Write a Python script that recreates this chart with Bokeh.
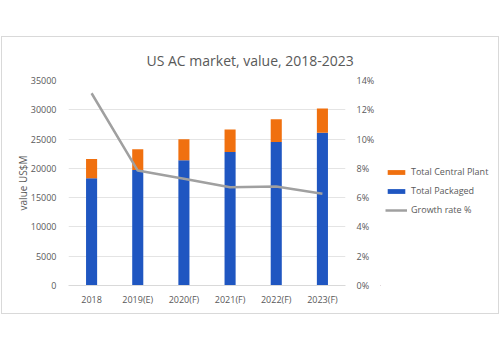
from bokeh.plotting import figure
from bokeh.layouts import row
from bokeh.models import (Range1d, FactorRange, LinearAxis, FixedTicker, NumeralTickFormatter,
                          Legend, LegendItem, Title, ColumnDataSource)
from bokeh.embed import file_html
from bokeh.resources import INLINE

years = ["2018", "2019(E)", "2020(F)", "2021(F)", "2022(F)", "2023(F)"]
packaged = [18300, 19700, 21400, 22800, 24500, 26100]
central_plant = [3300, 3550, 3550, 3850, 3900, 4100]
growth_rate = [0.1313, 0.0785, 0.0729, 0.0671, 0.0676, 0.0626]
left_ticks = [0, 5000, 10000, 15000, 20000, 25000, 30000, 35000]
right_ticks = [0, 0.02, 0.04, 0.06, 0.08, 0.10, 0.12, 0.14]
series_names = ["Total Central Plant", "Total Packaged", "Growth rate %"]

FONT = "Open Sans"
TXT = "#595959"
BLUE = "#1F56C1"
ORANGE = "#F0700F"
GRAY = "#A0A0A0"

src = ColumnDataSource(dict(year=years, packaged=packaged, central=central_plant,
                            growth=growth_rate))

p = figure(width=378, height=276, x_range=FactorRange(*years), y_range=Range1d(0, 35000),
           output_backend="svg", toolbar_location=None,
           min_border_left=66, min_border_right=35, min_border_top=43, min_border_bottom=28)
p.extra_y_ranges = {"pct": Range1d(0, 0.14)}
p.outline_line_color = None

r = p.vbar_stack(["packaged", "central"], x="year", width=0.24, source=src,
                 color=[BLUE, ORANGE], line_color=None)
ln = p.line(x="year", y="growth", source=src, y_range_name="pct",
            line_color=GRAY, line_width=2.5)

ya = p.yaxis[0]
ya.ticker = FixedTicker(ticks=left_ticks)
ya.axis_label = "value US$M"
ya.axis_label_text_font = FONT
ya.axis_label_text_font_size = "10px"
ya.axis_label_text_font_style = "normal"
ya.axis_label_text_color = TXT
ya.axis_label_standoff = -2
ya.major_label_text_font = FONT
ya.major_label_text_font_size = "9px"
ya.major_label_text_color = TXT
ya.axis_line_color = None
ya.major_tick_line_color = None
ya.minor_tick_line_color = None
ya.major_label_standoff = 6

ra = LinearAxis(y_range_name="pct", ticker=FixedTicker(ticks=right_ticks),
                formatter=NumeralTickFormatter(format="0%"))
ra.major_label_text_font = FONT
ra.major_label_text_font_size = "9px"
ra.major_label_text_color = TXT
ra.axis_line_color = None
ra.major_tick_line_color = None
ra.minor_tick_line_color = None
ra.major_label_standoff = 5
p.add_layout(ra, "right")

xa = p.xaxis[0]
xa.major_label_text_font = FONT
xa.major_label_text_font_size = "9px"
xa.major_label_text_color = TXT
xa.axis_line_color = "#D9D9D9"
xa.major_tick_line_color = None
xa.minor_tick_line_color = None
xa.major_label_standoff = 1
p.xgrid.grid_line_color = None
p.ygrid.grid_line_color = "#E4E4E4"
p.ygrid.ticker = FixedTicker(ticks=left_ticks)

p.title = Title(text="US AC market, value, 2018-2023", text_font=FONT, text_font_size="14px",
                text_font_style="normal", text_color=TXT, align="left", offset=78,
                standoff=21)

# legend panel (separate figure so the legend is not clipped)
p2 = figure(width=118, height=276, output_backend="svg", toolbar_location=None,
            x_axis_location=None, y_axis_location=None, min_border=0,
            x_range=Range1d(0, 1), y_range=Range1d(0, 1))
p2.grid.grid_line_color = None
p2.outline_line_color = None
hidden = ColumnDataSource(dict(x=[-5, -6], y=[-5, -6]))
lg_c = p2.vbar(x="x", top="y", width=0.1, source=hidden, color=ORANGE, line_color=None)
lg_p = p2.vbar(x="x", top="y", width=0.1, source=hidden, color=BLUE, line_color=None)
lg_l = p2.line(x="x", y="y", source=hidden, line_color=GRAY, line_width=2.5)

legend = Legend(items=[LegendItem(label=series_names[0], renderers=[lg_c]),
                       LegendItem(label=series_names[1], renderers=[lg_p]),
                       LegendItem(label=series_names[2], renderers=[lg_l])],
                location=(5, 69), glyph_width=22, glyph_height=6, label_height=10,
                spacing=6, label_text_font=FONT, label_text_font_size="9px",
                label_text_color=TXT, border_line_color=None, background_fill_alpha=0,
                margin=0, padding=2, label_standoff=4)
p2.add_layout(legend, "center")

layout = row(p, p2, margin=(37, 2, 0, 2),
             styles={"outline": "1px solid #D9D9D9"})

open("out.html", "w").write(file_html(layout, INLINE))
